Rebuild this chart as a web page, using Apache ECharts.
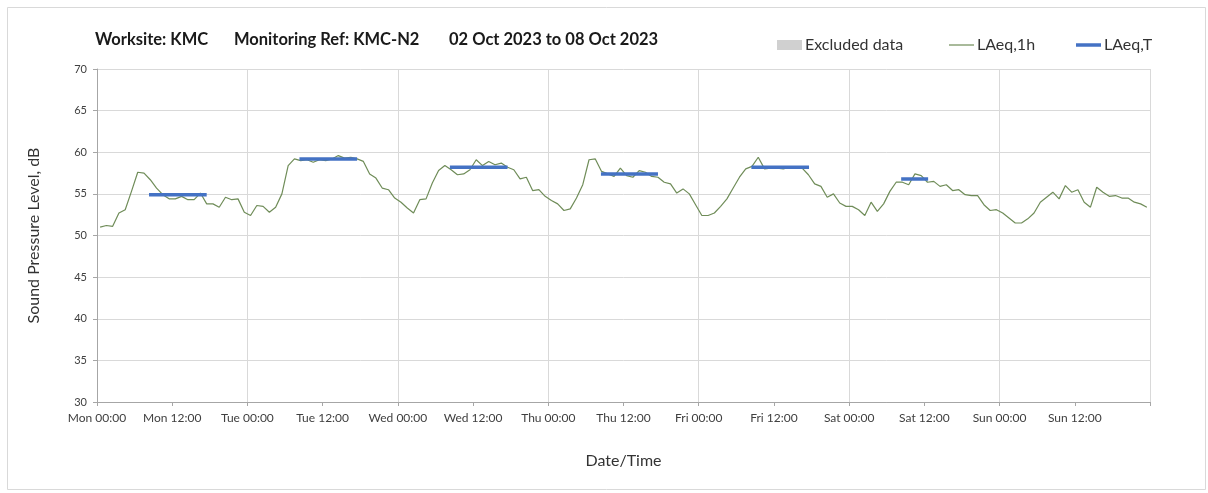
<!DOCTYPE html>
<html>
<head>
<meta charset="utf-8">
<script src="https://cdn.jsdelivr.net/npm/echarts@6/dist/echarts.min.js"></script>
<style>
  html, body { margin: 0; padding: 0; background: #fff; }
  #chart { width: 1208px; height: 493px; }
</style>
</head>
<body>
<div id="chart"></div>
<script>
// hourly LAeq,1h values, Mon 00:00 .. Sun 23:00 (plotted at mid-hour)
var dayNames = ['Mon', 'Tue', 'Wed', 'Thu', 'Fri', 'Sat', 'Sun']
var laeq1h = [
  51.0, 51.2, 51.1, 52.7, 53.1, 55.3, 57.6, 57.5, 56.7, 55.7, 54.9, 54.4,
  54.4, 54.7, 54.3, 54.3, 55.1, 53.8, 53.8, 53.4, 54.6, 54.3, 54.4, 52.8,
  52.4, 53.6, 53.5, 52.8, 53.4, 55.0, 58.4, 59.2, 59.0, 59.1, 58.8, 59.1,
  59.0, 59.2, 59.6, 59.3, 59.4, 59.2, 58.9, 57.4, 56.9, 55.7, 55.5, 54.5,
  54.0, 53.3, 52.7, 54.3, 54.4, 56.3, 57.8, 58.4, 57.9, 57.3, 57.4, 57.9,
  59.1, 58.4, 58.9, 58.5, 58.7, 58.2, 57.9, 56.8, 57.0, 55.4, 55.5, 54.7,
  54.2, 53.8, 53.0, 53.2, 54.5, 56.1, 59.1, 59.2, 57.7, 57.4, 57.1, 58.1,
  57.2, 57.0, 57.8, 57.6, 57.1, 57.0, 56.4, 56.2, 55.1, 55.6, 55.0, 53.7,
  52.4, 52.4, 52.7, 53.5, 54.4, 55.7, 57.0, 58.0, 58.3, 59.4, 58.0, 58.1,
  58.1, 58.0, 58.2, 58.2, 58.1, 57.3, 56.2, 55.9, 54.6, 55.0, 53.9, 53.5,
  53.5, 53.1, 52.4, 54.0, 52.9, 53.8, 55.3, 56.4, 56.4, 56.1, 57.4, 57.2,
  56.4, 56.5, 55.9, 56.1, 55.4, 55.5, 54.9, 54.8, 54.8, 53.7, 53.0, 53.1,
  52.7, 52.1, 51.5, 51.5, 52.0, 52.7, 54.0, 54.6, 55.2, 54.4, 56.0, 55.2,
  55.5, 54.0, 53.4, 55.8, 55.2, 54.7, 54.8, 54.5, 54.5, 54.0, 53.8, 53.4
]
// LAeq,T daytime periods (hours from Mon 00:00)
var laeqTStart = [8.3, 32.3, 56.3, 80.4, 104.4, 128.3]
var laeqTEnd = [17.5, 41.5, 65.5, 89.5, 113.6, 132.6]
var laeqTValues = [54.9, 59.2, 58.2, 57.4, 58.2, 56.8]
var yTicks = { min: 30, max: 70, interval: 5 }
var titleParts = ['Worksite: KMC', 'Monitoring Ref: KMC-N2', '02 Oct 2023 to 08 Oct 2023']

var fontFamily = 'Lato, "Open Sans", sans-serif'
var chart = echarts.init(document.getElementById('chart'))

var series = [
  {
    name: 'Excluded data',
    type: 'bar',
    data: [],
    itemStyle: { color: '#d0d0d0' }
  },
  {
    name: 'LAeq,1h',
    type: 'line',
    symbol: 'none',
    lineStyle: { color: '#6f8c58', width: 1.2 },
    itemStyle: { color: '#6f8c58' },
    data: laeq1h.map(function(v, i) { return [i + 0.5, v] }),
    z: 3
  }
]
laeqTValues.forEach(function(v, k) {
  series.push({
    name: 'LAeq,T',
    type: 'line',
    symbol: 'none',
    lineStyle: { color: '#4472c4', width: 3.5 },
    itemStyle: { color: '#4472c4' },
    data: [[laeqTStart[k], v], [laeqTEnd[k], v]],
    z: 4
  })
})

var legendBase = {
  top: 32,
  itemWidth: 25,
  itemGap: 0,
  selectedMode: false,
  textStyle: { fontSize: 16, color: '#333', fontFamily: fontFamily, padding: [0, 0, 0, -2] }
}

var titleX = [95, 234, 449]
var option = {
  animation: false,
  backgroundColor: '#fff',
  legend: [
    Object.assign({}, legendBase, { left: 772, itemHeight: 10, data: [{ name: 'Excluded data', icon: 'rect' }] }),
    Object.assign({}, legendBase, { left: 944, itemHeight: 1.2, data: [{ name: 'LAeq,1h', icon: 'rect' }] }),
    Object.assign({}, legendBase, { left: 1071, itemHeight: 3.5, data: [{ name: 'LAeq,T', icon: 'rect' }] })
  ],
  graphic: [
    {
      type: 'rect',
      shape: { x: 7.5, y: 7.5, width: 1198, height: 482 },
      style: { fill: 'none', stroke: '#d9d9d9', lineWidth: 1 },
      silent: true
    }
  ].concat(titleParts.map(function(t, i) {
    return {
      type: 'text',
      left: titleX[i],
      top: 31,
      style: { text: t, fontSize: 16.5, fontWeight: 'bold', fill: '#1a1a1a', fontFamily: fontFamily }
    }
  })),
  grid: { left: 97, right: 58, top: 69, bottom: 91, containLabel: false },
  xAxis: [
    {
      type: 'value',
      min: 0,
      max: 168,
      interval: 12,
      name: 'Date/Time',
      nameLocation: 'middle',
      nameGap: 51,
      nameTextStyle: { fontSize: 16, color: '#333', fontFamily: fontFamily },
      axisLine: { show: true, lineStyle: { color: '#a6a6a6' } },
      axisTick: { show: true, length: 4, lineStyle: { color: '#a6a6a6' } },
      splitLine: { show: false },
      axisLabel: {
        fontSize: 12,
        color: '#404040',
        fontFamily: fontFamily,
        margin: 10,
        formatter: function(v) {
          if (v >= 168) return ''
          var d = dayNames[Math.floor(v / 24)]
          return d + ' ' + (v % 24 === 0 ? '00:00' : '12:00')
        }
      }
    },
    {
      type: 'value',
      min: 0,
      max: 168,
      interval: 24,
      position: 'bottom',
      axisLine: { show: false },
      axisTick: { show: false },
      axisLabel: { show: false },
      splitLine: { show: true, lineStyle: { color: '#d9d9d9', width: 1 } }
    }
  ],
  yAxis: {
    type: 'value',
    min: yTicks.min,
    max: yTicks.max,
    interval: yTicks.interval,
    name: 'Sound Pressure Level, dB',
    nameLocation: 'middle',
    nameGap: 55,
    nameTextStyle: { fontSize: 16, color: '#333', fontFamily: fontFamily },
    axisLine: { show: true, lineStyle: { color: '#a6a6a6' } },
    axisTick: { show: true, length: 4, lineStyle: { color: '#a6a6a6' } },
    splitLine: { show: true, lineStyle: { color: '#d9d9d9', width: 1 } },
    axisLabel: { fontSize: 11, color: '#404040', fontFamily: fontFamily, margin: 10 }
  },
  series: series
}

chart.setOption(option)
</script>
</body>
</html>
